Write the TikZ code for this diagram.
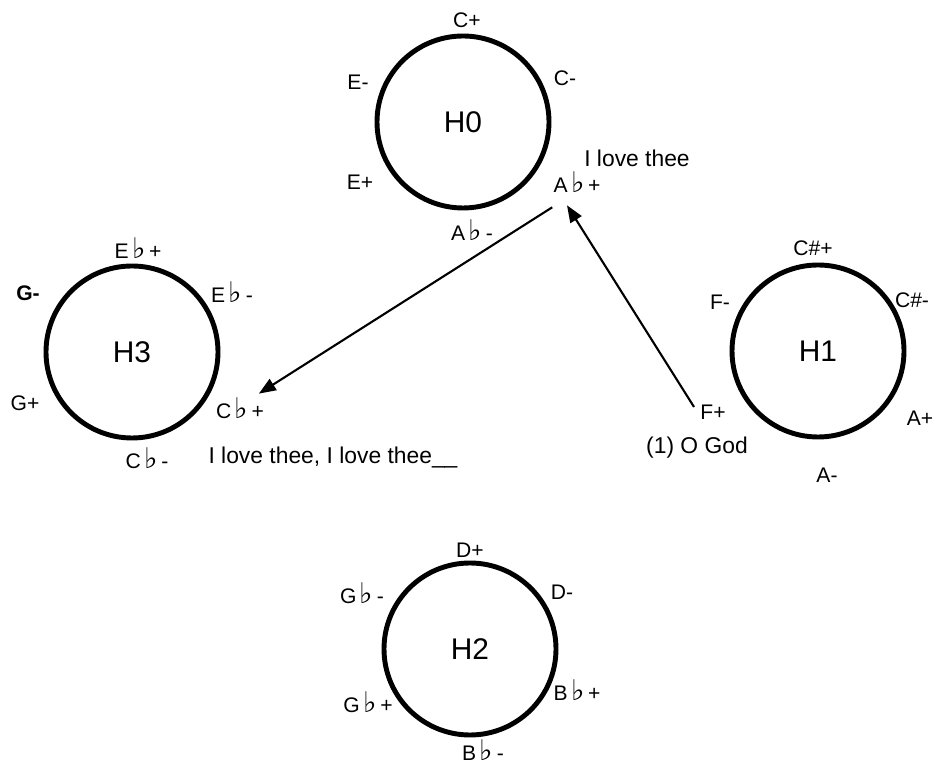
\documentclass[tikz,border=0pt]{standalone}
\usepackage{fontspec}
\setmainfont{Liberation Sans}
\newfontfamily\flatfont[Scale=1.35]{DejaVu Sans}
\usepackage{tikz}
\usetikzlibrary{arrows.meta, positioning}
\newcommand{\fsign}{\,{\flatfont ♭}\,}
\tikzset{
  hexcircle/.style={circle, draw=black, minimum size=3.44cm,
    line width=2.8pt, inner sep=0pt, font=\fontsize{17}{19}\selectfont},
  note/.style={font=\fontsize{12}{14}\selectfont, inner sep=2pt},
  lyric/.style={font=\fontsize{13}{15}\selectfont, inner sep=2pt},
  arrow/.style={-{Triangle[length=0.34cm, width=0.26cm]}, line width=1.2pt, color=black}
}
\begin{document}
\begin{tikzpicture}
  \useasboundingbox (0,0) rectangle (18.68,15.36);

  % hexatonic cycles
  \node[hexcircle] (h0) at (9.26, 12.92) {H0};
  \node[hexcircle] (h1) at (16.36, 8.34) {H1};
  \node[hexcircle] (h2) at (9.40, 2.38) {H2};
  \node[hexcircle] (h3) at (2.64, 8.32) {H3};

  % H0
  \node[note] (h0cp) at (9.34, 14.96) {C+};
  \node[note] (h0cm) at (11.30, 13.80) {C-};
  \node[note] (h0em) at (7.16, 13.72) {E-};
  \node[note] (h0ep) at (7.20, 11.72) {E+};
  \node[note] (h0ap) at (11.54, 11.72) {A\fsign+};
  \node[note] (h0am) at (9.44, 10.76) {A\fsign-};

  % H1
  \node[note] (h1cp) at (16.26, 10.40) {C\#+};
  \node[note] (h1cm) at (18.24, 9.36) {C\#-};
  \node[note] (h1fm) at (14.40, 9.32) {F-};
  \node[note] (h1fp) at (14.26, 7.12) {F+};
  \node[note] (h1ap) at (18.40, 7.00) {A+};
  \node[note] (h1am) at (16.54, 5.86) {A-};

  % H2
  \node[note] (h2dp) at (9.40, 4.36) {D+};
  \node[note] (h2dm) at (11.24, 3.52) {D-};
  \node[note] (h2gm) at (7.24, 3.50) {G\fsign-};
  \node[note] (h2gp) at (7.36, 1.32) {G\fsign+};
  \node[note] (h2bp) at (11.54, 1.56) {B\fsign+};
  \node[note] (h2bm) at (9.66, 0.36) {B\fsign-};

  % H3
  \node[note] (h3ep) at (2.76, 10.40) {E\fsign+};
  \node[note] (h3em) at (4.64, 9.52) {E\fsign-};
  \node[note, font=\fontsize{12}{14}\selectfont\bfseries] (h3gm) at (0.56, 9.50) {G-};
  \node[note] (h3gp) at (0.50, 7.30) {G+};
  \node[note] (h3cp) at (4.80, 7.20) {C\fsign+};
  \node[note] (h3cm) at (2.94, 6.20) {C\fsign-};

  % text underlay
  \node[lyric] (ly1) at (13.94, 6.40) {(1) O God};
  \node[lyric] (ly2) at (12.74, 12.20) {I love thee};
  \node[lyric] (ly3) at (6.66, 6.22) {I love thee, I love thee\_\_};

  \draw[arrow] ([xshift=-0.05cm, yshift=0.1cm]h1fp.west) -- ([xshift=-0.2cm, yshift=-0.18cm]h0ap.south);
  \draw[arrow] ([xshift=0.05cm, yshift=-0.22cm]h0ap.south west) -- ([xshift=-0.18cm]h3cp.north east);
\end{tikzpicture}
\end{document}
